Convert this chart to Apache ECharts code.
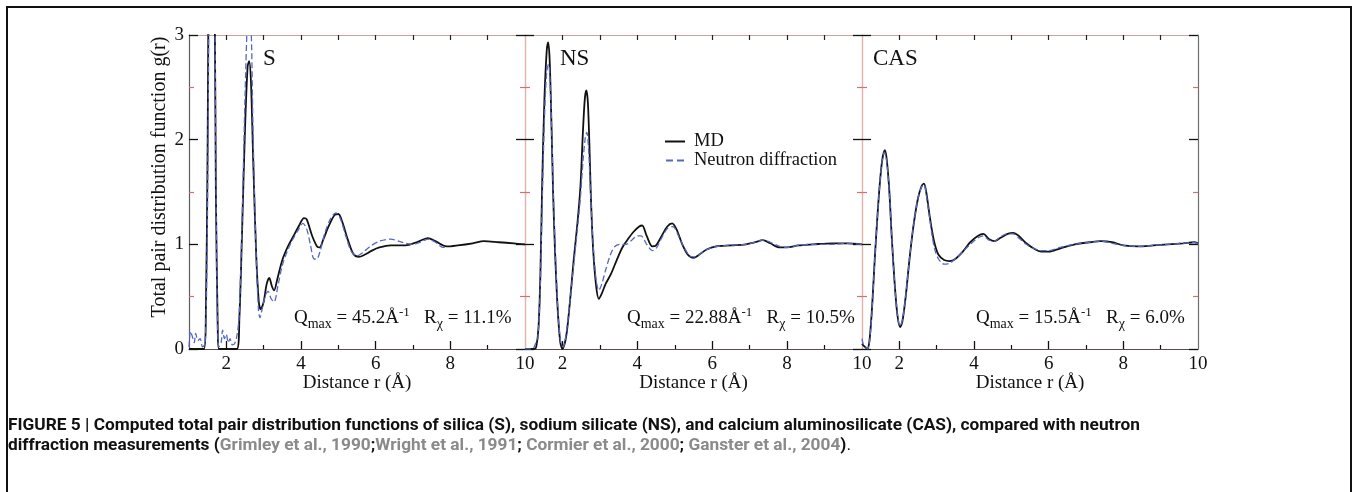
<!DOCTYPE html>
<html>
<head>
<meta charset="utf-8">
<script src="https://cdn.jsdelivr.net/npm/echarts@6/dist/echarts.min.js"></script>
<style>
  html, body { margin: 0; padding: 0; background: #fff; }
  #chart { width: 1352px; height: 492px; }
</style>
</head>
<body>
<div id="chart"></div>
<script>
// g(r) curves, [r (Å), g(r)]
const silicaMD = [
  [1.0, 0], [1.4, 0], [1.45, 0.3], [1.5, 2.0], [1.55, 5], [1.61, 6.5], [1.67, 4.5], [1.72, 1.5], [1.77, 0.2], [1.8, 0],
  [2.28, 0], [2.35, 0.3], [2.42, 1.1], [2.5, 2.1], [2.57, 2.7], [2.61, 2.75], [2.66, 2.55], [2.72, 1.8], [2.8, 0.9],
  [2.87, 0.45], [2.92, 0.38], [3.0, 0.45], [3.08, 0.62], [3.15, 0.68], [3.22, 0.6], [3.28, 0.56], [3.36, 0.66],
  [3.5, 0.85], [3.65, 0.98], [3.8, 1.08], [3.95, 1.18], [4.08, 1.25], [4.15, 1.24], [4.3, 1.08], [4.43, 0.98],
  [4.5, 0.97], [4.6, 1.05], [4.75, 1.18], [4.9, 1.28], [5.0, 1.29], [5.1, 1.22], [5.25, 1.05], [5.4, 0.91],
  [5.55, 0.88], [5.7, 0.9], [5.9, 0.94], [6.1, 0.97], [6.4, 0.99], [6.8, 0.99], [7.1, 1.02], [7.4, 1.06],
  [7.6, 1.03], [7.9, 0.98], [8.2, 0.99], [8.6, 1.01], [8.9, 1.03], [9.3, 1.02], [9.7, 1.01], [10, 1.0]
]
const silicaND = [
  [1.0, 0.02], [1.04, 0.17], [1.09, 0.12], [1.14, 0.06], [1.18, 0.15], [1.24, 0.08], [1.3, 0.1], [1.36, 0.02],
  [1.43, 0.05], [1.48, 0.8], [1.52, 2.5], [1.57, 5.5], [1.62, 6.6], [1.67, 4.8], [1.72, 1.8], [1.76, 0.3],
  [1.8, 0.02], [1.86, 0.06], [1.9, 0.18], [1.95, 0.1], [2.0, 0.14], [2.05, 0.06], [2.1, 0.1], [2.16, 0.04],
  [2.22, 0.05], [2.28, 0.12], [2.34, 0.3], [2.42, 1.2], [2.5, 2.4], [2.57, 3.2], [2.62, 3.35], [2.67, 3.0],
  [2.72, 2.0], [2.8, 0.9], [2.86, 0.38], [2.9, 0.3], [2.97, 0.4], [3.05, 0.52], [3.12, 0.55], [3.2, 0.48],
  [3.28, 0.45], [3.38, 0.6], [3.5, 0.8], [3.65, 0.95], [3.8, 1.06], [3.95, 1.15], [4.05, 1.2], [4.15, 1.15],
  [4.25, 1.0], [4.35, 0.86], [4.42, 0.86], [4.5, 0.92], [4.65, 1.12], [4.8, 1.25], [4.93, 1.3], [5.05, 1.25],
  [5.2, 1.08], [5.35, 0.93], [5.5, 0.89], [5.65, 0.92], [5.85, 0.98], [6.1, 1.03], [6.4, 1.05], [6.7, 1.02],
  [7.0, 1.0], [7.2, 1.02], [7.4, 1.05], [7.6, 1.02], [7.8, 0.97], [7.9, 0.97]
]
const sodiumMD = [
  [1.0, 0], [1.25, 0], [1.3, 0.02], [1.36, 0.2], [1.41, 0.7], [1.46, 1.6], [1.52, 2.4], [1.58, 2.85], [1.62, 2.93],
  [1.66, 2.75], [1.71, 2.1], [1.75, 1.5], [1.8, 0.95], [1.87, 0.4], [1.94, 0.07], [2.0, 0], [2.1, 0.12],
  [2.2, 0.45], [2.3, 0.85], [2.4, 1.2], [2.48, 1.55], [2.55, 2.1], [2.6, 2.4], [2.64, 2.47], [2.68, 2.35],
  [2.72, 1.95], [2.76, 1.45], [2.82, 0.95], [2.9, 0.6], [2.97, 0.48], [3.05, 0.53], [3.15, 0.62], [3.3, 0.72],
  [3.45, 0.85], [3.6, 0.97], [3.75, 1.05], [3.9, 1.12], [4.05, 1.17], [4.13, 1.18], [4.25, 1.08], [4.4, 0.98],
  [4.5, 0.99], [4.65, 1.08], [4.8, 1.17], [4.93, 1.2], [5.05, 1.14], [5.2, 1.0], [5.35, 0.9], [5.5, 0.87],
  [5.65, 0.9], [5.85, 0.95], [6.1, 0.98], [6.5, 0.99], [6.9, 1.0], [7.15, 1.02], [7.35, 1.04], [7.55, 1.01],
  [7.8, 0.97], [8.0, 0.97], [8.3, 0.99], [8.7, 1.0], [9.2, 1.01], [9.6, 1.01], [10, 1.0]
]
const sodiumND = [
  [1.0, 0], [1.2, 0], [1.28, 0.05], [1.34, 0.1], [1.4, 0.5], [1.46, 1.4], [1.52, 2.2], [1.58, 2.65], [1.63, 2.72],
  [1.67, 2.55], [1.72, 2.0], [1.76, 1.45], [1.82, 0.85], [1.89, 0.3], [1.96, 0.05], [2.02, 0.02], [2.1, 0.15],
  [2.2, 0.45], [2.3, 0.8], [2.4, 1.15], [2.48, 1.45], [2.55, 1.8], [2.61, 2.02], [2.65, 2.07], [2.7, 1.9],
  [2.75, 1.5], [2.82, 1.0], [2.9, 0.66], [2.97, 0.56], [3.05, 0.62], [3.15, 0.75], [3.28, 0.9], [3.4, 0.98],
  [3.55, 1.0], [3.7, 1.0], [3.85, 1.04], [4.0, 1.08], [4.1, 1.08], [4.25, 1.0], [4.4, 0.94], [4.5, 0.96],
  [4.65, 1.06], [4.8, 1.15], [4.95, 1.17], [5.1, 1.08], [5.25, 0.97], [5.4, 0.89], [5.55, 0.88], [5.75, 0.93],
  [6.0, 0.97], [6.4, 0.99], [6.9, 1.0], [7.15, 1.02], [7.35, 1.04], [7.55, 1.02], [7.8, 0.98], [8.0, 0.97],
  [8.3, 0.99], [8.7, 1.0], [9.2, 1.0], [9.6, 1.01], [10, 1.0]
]
const casMD = [
  [1.0, 0.05], [1.08, 0.02], [1.14, 0], [1.2, 0.08], [1.27, 0.4], [1.34, 0.85], [1.41, 1.25], [1.47, 1.55],
  [1.54, 1.8], [1.61, 1.9], [1.66, 1.82], [1.73, 1.52], [1.8, 1.05], [1.88, 0.6], [1.95, 0.32], [2.02, 0.21],
  [2.08, 0.26], [2.17, 0.5], [2.27, 0.85], [2.38, 1.18], [2.5, 1.44], [2.6, 1.56], [2.66, 1.58], [2.72, 1.5],
  [2.8, 1.3], [2.88, 1.12], [2.95, 1.0], [3.05, 0.9], [3.2, 0.85], [3.35, 0.84], [3.5, 0.86], [3.7, 0.93],
  [3.9, 1.02], [4.1, 1.08], [4.25, 1.1], [4.4, 1.05], [4.55, 1.03], [4.7, 1.06], [4.9, 1.1], [5.05, 1.11],
  [5.2, 1.08], [5.4, 1.01], [5.6, 0.96], [5.8, 0.93], [6.0, 0.93], [6.3, 0.96], [6.7, 1.0], [7.1, 1.02],
  [7.4, 1.03], [7.7, 1.02], [8.0, 0.99], [8.4, 0.98], [8.8, 0.99], [9.2, 1.0], [9.6, 1.01], [9.9, 1.02], [10, 1.01]
]
const casND = [
  [1.0, 0.1], [1.04, 0.04], [1.1, 0.02], [1.15, 0], [1.2, 0.06], [1.27, 0.38], [1.34, 0.85], [1.41, 1.25],
  [1.47, 1.55], [1.54, 1.8], [1.6, 1.88], [1.66, 1.8], [1.73, 1.5], [1.8, 1.05], [1.88, 0.6], [1.95, 0.32],
  [2.02, 0.22], [2.08, 0.27], [2.17, 0.5], [2.27, 0.86], [2.38, 1.18], [2.5, 1.44], [2.6, 1.55], [2.66, 1.57],
  [2.72, 1.48], [2.8, 1.28], [2.88, 1.08], [2.95, 0.95], [3.05, 0.86], [3.2, 0.81], [3.35, 0.82], [3.5, 0.86],
  [3.7, 0.93], [3.9, 1.0], [4.1, 1.06], [4.25, 1.08], [4.4, 1.04], [4.55, 1.03], [4.7, 1.07], [4.9, 1.1],
  [5.05, 1.1], [5.2, 1.06], [5.4, 1.0], [5.6, 0.96], [5.8, 0.94], [6.0, 0.94], [6.3, 0.97], [6.7, 1.0],
  [7.1, 1.02], [7.4, 1.03], [7.7, 1.01], [8.0, 0.99], [8.4, 0.98], [8.8, 0.99], [9.2, 1.0], [9.6, 1.01],
  [9.9, 1.02], [10, 1.0]
]

const panelNames = ['S', 'NS', 'CAS']
const qmaxText = ['45.2', '22.88', '15.5']
const rchiText = ['11.1%', '10.5%', '6.0%']
const xMajor = [2, 4, 6, 8]
const xMinor = [3, 5, 7, 9]
const xLabels = [2, 4, 6, 8, 10]

const curves = [[silicaMD, silicaND], [sodiumMD, sodiumND], [casMD, casND]]

const serif = 'Liberation Serif'
const pink = '#e0b2aa'
const lefts = [189, 525, 862]
const widths = [336, 337, 336]

const grid = [], xAxis = [], yAxis = [], series = [], graphic = []

curves.forEach((pair, i) => {
  grid.push({ left: lefts[i], top: 35, width: widths[i], height: 314 })

  // bottom axis, long ticks + labels
  xAxis.push({
    type: 'value', gridIndex: i, min: 1, max: 10, position: 'bottom',
    axisLine: { onZero: false, lineStyle: { color: '#5a4c48', width: 1.2 } },
    axisTick: { inside: true, length: 8, customValues: xMajor, lineStyle: { color: '#111', width: 1.3 } },
    axisLabel: { customValues: xLabels, margin: 6, fontFamily: serif, fontSize: 19, color: '#111' },
    splitLine: { show: false },
    name: 'Distance r (Å)', nameLocation: 'middle', nameGap: 25, nameMoveOverlap: false,
    nameTextStyle: { fontFamily: serif, fontSize: 19, color: '#111' }
  })
  // bottom axis, short ticks
  xAxis.push({
    type: 'value', gridIndex: i, min: 1, max: 10, position: 'bottom',
    axisLine: { show: false, onZero: false },
    axisTick: { inside: true, length: 4, customValues: xMinor, lineStyle: { color: '#111', width: 1.2 } },
    axisLabel: { show: false }, splitLine: { show: false }
  })
  // top frame
  xAxis.push({
    type: 'value', gridIndex: i, min: 1, max: 10, position: 'top',
    axisLine: { onZero: false, lineStyle: { color: '#caa498', width: 1.2 } },
    axisTick: { inside: true, length: 5, customValues: xMajor.concat(xMinor), lineStyle: { color: '#222', width: 1.2 } },
    axisLabel: { show: false }, splitLine: { show: false }
  })

  const sides = ['left', 'right']
  sides.forEach(side => {
    let lineColor = pink
    if (i === 0 && side === 'left') lineColor = '#5c5c5c'
    if (i === 2 && side === 'right') lineColor = '#6e6e6e'
    const withLabels = i === 0 && side === 'left'
    yAxis.push({
      type: 'value', gridIndex: i, min: 0, max: 3, interval: 1, position: side,
      axisLine: { show: true, onZero: false, lineStyle: { color: lineColor, width: 1.2 } },
      axisTick: { inside: true, length: 9, lineStyle: { color: '#111', width: 1.3 } },
      minorTick: { show: true, splitNumber: 2, length: 5, lineStyle: { color: '#d07070', width: 1.2 } },
      axisLabel: { show: withLabels, margin: 5, fontFamily: serif, fontSize: 19, color: '#111' },
      splitLine: { show: false }
    })
  })

  series.push({
    name: 'MD', type: 'line', xAxisIndex: 3 * i, yAxisIndex: 2 * i,
    data: pair[0], symbol: 'none', smooth: 0.3, clip: true,
    lineStyle: { color: '#111', width: 1.8 }, itemStyle: { color: '#111' }
  })
  series.push({
    name: 'Neutron diffraction', type: 'line', xAxisIndex: 3 * i, yAxisIndex: 2 * i,
    data: pair[1], symbol: 'none', smooth: 0.3, clip: true,
    lineStyle: { color: '#5468c4', width: 1.3, type: [6, 3] }, itemStyle: { color: '#5468c4' }
  })

  // panel tag
  graphic.push({
    type: 'text', left: lefts[i] + [74, 35, 11][i], top: 47,
    style: { text: panelNames[i], font: '23px "Liberation Serif"', fill: '#111' }
  })
  // Qmax / R annotation
  graphic.push({
    type: 'text', x: [294, 627, 976][i], y: 318,
    style: {
      text: '{m|Q}{s|max}{m| = ' + qmaxText[i] + 'Å}{p|-1}{m|   R}{s|χ}{m| = ' + rchiText[i] + '}',
      verticalAlign: 'middle',
      rich: {
        m: { fontFamily: serif, fontSize: 19, fill: '#111' },
        s: { fontFamily: serif, fontSize: 14, fill: '#111', padding: [12, 0, 0, 0] },
        p: { fontFamily: serif, fontSize: 13, fill: '#111', padding: [0, 0, 10, 0] }
      }
    }
  })
})

// y axis title
graphic.push({
  type: 'text', x: 160, y: 177, rotation: Math.PI / 2,
  style: {
    text: 'Total pair distribution function g(r)', font: '20px "Liberation Serif"',
    fill: '#111', align: 'center', verticalAlign: 'middle'
  }
})
// outer frame
graphic.push({
  type: 'rect', shape: { x: 7, y: 7, width: 1344, height: 600 },
  style: { fill: 'none', stroke: '#111', lineWidth: 2 }
})
// caption
const capBold = { fontFamily: 'Roboto', fontWeight: 'bold', fontSize: 17.3, lineHeight: 20 }
graphic.push({
  type: 'text', x: 8, y: 416,
  style: {
    text: '{b|FIGURE 5 | Computed total pair distribution functions of silica (S), sodium silicate (NS), and calcium aluminosilicate (CAS), compared with neutron}\n' +
      '{b|diffraction measurements (}{g|Grimley et al., 1990}{b|;}{g|Wright et al., 1991}{b|; }{g|Cormier et al., 2000}{b|; }{g|Ganster et al., 2004}{b|)}{n|.}',
    rich: {
      b: Object.assign({ fill: '#111' }, capBold),
      g: Object.assign({ fill: '#8a8a8a' }, capBold),
      n: { fontFamily: 'Roboto', fontSize: 17.3, lineHeight: 20, fill: '#111' }
    }
  }
})

const chart = echarts.init(document.getElementById('chart'))
chart.setOption({
  animation: false,
  backgroundColor: '#fff',
  legend: {
    data: [
      { name: 'MD', icon: 'path://M0,0H20V2H0Z' },
      { name: 'Neutron diffraction', icon: 'path://M0,0H7V2H0Z M11,0H18V2H11Z' }
    ],
    orient: 'vertical', left: 660, top: 127,
    itemWidth: 20, itemHeight: 2, itemGap: 0,
    textStyle: { fontFamily: serif, fontSize: 18.5, color: '#111', padding: [0, 0, 0, 4] }
  },
  grid, xAxis, yAxis, series, graphic
})
</script>
</body>
</html>
